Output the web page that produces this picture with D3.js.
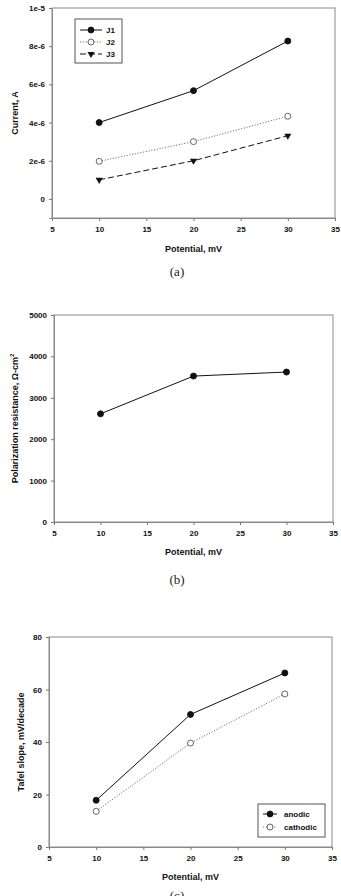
<!DOCTYPE html>
<html>
<head>
<meta charset="utf-8">
<script src="https://cdn.jsdelivr.net/npm/d3@7"></script>
<style>
  body { margin:0; background:#fff; }
  svg { display:block; }
  .tick text { font-family:"Liberation Sans",Arial,sans-serif; font-weight:bold; font-size:8px; fill:#111; }
  .ttl { font-family:"Liberation Sans",Arial,sans-serif; font-weight:bold; font-size:9px; fill:#111; }
  .cap { font-family:"Liberation Serif","Times New Roman",serif; font-size:13px; fill:#222; }
  .leg { font-family:"Liberation Sans",Arial,sans-serif; font-weight:bold; font-size:8px; fill:#111; }
</style>
</head>
<body>
<svg id="fig" width="341" height="896"></svg>
<script>
// shared x values (potential, mV)
const potential = [10, 20, 30]
const xTicks = [5, 10, 15, 20, 25, 30, 35]

// (a) current
const currentJ1 = [4.0e-6, 5.67e-6, 8.27e-6]
const currentJ2 = [1.97e-6, 3.0e-6, 4.33e-6]
const currentJ3 = [1.0e-6, 2.0e-6, 3.31e-6]
const currentTicks = [0, 2e-6, 4e-6, 6e-6, 8e-6, 1e-5]
const currentTickLabels = ['0', '2e-6', '4e-6', '6e-6', '8e-6', '1e-5']

// (b) polarization resistance
const resistance = [2613, 3525, 3622]
const resistanceTicks = [0, 1000, 2000, 3000, 4000, 5000]

// (c) tafel slopes
const anodic = [17.8, 50.5, 66.3]
const cathodic = [13.6, 39.6, 58.3]
const tafelTicks = [0, 20, 40, 60, 80]

const svg = d3.select('#fig')

const styles = {
	solid: { stroke:'#111', dash:null, sym:'circle', fill:'#111', mstroke:'#111' },
	dotted: { stroke:'#777', dash:'1.2,1.6', sym:'circle', fill:'#fff', mstroke:'#555' },
	dashed: { stroke:'#111', dash:'6,3', sym:'triangle', fill:'#111', mstroke:'#111' }
}

function marker(g, x, y, st){
	if(st.sym == 'circle'){
		g.append('circle').attr('cx', x).attr('cy', y).attr('r', 3)
			.attr('fill', st.fill).attr('stroke', st.mstroke).attr('stroke-width', 0.9)
	}else{
		let tri = d3.symbol().type(d3.symbolTriangle).size(22)
		g.append('path').attr('d', tri())
			.attr('transform', 'translate(' + x + ',' + y + ') rotate(180)')
			.attr('fill', st.fill)
	}
}

function panel(cfg){
	let { left, right, top, bottom, yDomain, yTicks, yLabels, series, yTitle, caption, titleY, capY, yTitleX, legend } = cfg
	let g = svg.append('g')

	let x = d3.scaleLinear().domain([5, 35]).range([left, right])
	let y = d3.scaleLinear().domain(yDomain).range([bottom, top])

	// frame
	g.append('rect').attr('x', left).attr('y', top)
		.attr('width', right - left).attr('height', bottom - top)
		.attr('fill', 'none').attr('stroke', '#8a8a8a').attr('stroke-width', 1)

	let xa = g.append('g').attr('transform', 'translate(0,' + bottom + ')')
		.call(d3.axisBottom(x).tickValues(xTicks).tickSize(3).tickPadding(5).tickFormat(d3.format('d')))
	let ya = g.append('g').attr('transform', 'translate(' + left + ',0)')
		.call(d3.axisLeft(y).tickValues(yTicks).tickSize(3).tickPadding(4)
			.tickFormat((d, i) => yLabels ? yLabels[i] : d))
	;[xa, ya].forEach(a => {
		a.select('.domain').attr('stroke', '#8a8a8a')
		a.selectAll('.tick line').attr('stroke', '#777')
	})

	// lines + markers
	let line = d3.line().x((d, i) => x(potential[i])).y(d => y(d))
	series.forEach(s => {
		let st = styles[s.style]
		g.append('path').attr('d', line(s.values))
			.attr('fill', 'none').attr('stroke', st.stroke).attr('stroke-width', 1)
			.attr('stroke-dasharray', st.dash)
		s.values.forEach((v, i) => marker(g, x(potential[i]), y(v), st))
	})

	// titles
	g.append('text').attr('class', 'ttl').attr('x', (left + right) / 2).attr('y', titleY)
		.attr('text-anchor', 'middle').text('Potential, mV')
	let yt = g.append('text').attr('class', 'ttl')
		.attr('transform', 'translate(' + yTitleX + ',' + (top + bottom) / 2 + ') rotate(-90)')
		.attr('text-anchor', 'middle')
	if(Array.isArray(yTitle)){
		yt.append('tspan').text(yTitle[0])
		yt.append('tspan').attr('dy', -4).attr('font-size', '6px').text(yTitle[1])
	}else yt.text(yTitle)
	g.append('text').attr('class', 'cap').attr('x', 177).attr('y', capY)
		.attr('text-anchor', 'middle').text(caption)

	// legend
	if(legend){
		let { bx, by, bw, bh, rowY, lx0, lx1, tx } = legend
		g.append('rect').attr('x', bx).attr('y', by).attr('width', bw).attr('height', bh)
			.attr('fill', '#fff').attr('stroke', '#555').attr('stroke-width', 1)
		series.forEach((s, i) => {
			let st = styles[s.style]
			let yy = rowY[i]
			g.append('line').attr('x1', lx0).attr('x2', lx1).attr('y1', yy).attr('y2', yy)
				.attr('stroke', st.stroke).attr('stroke-width', 1).attr('stroke-dasharray', st.dash)
			marker(g, (lx0 + lx1) / 2, yy, st)
			g.append('text').attr('class', 'leg').attr('x', tx).attr('y', yy + 3).text(s.name)
		})
	}
}

panel({
	left:52, right:335, top:8, bottom:218,
	yDomain:[-1e-6, 1e-5], yTicks:currentTicks, yLabels:currentTickLabels,
	series:[
		{ name:'J1', values:currentJ1, style:'solid' },
		{ name:'J2', values:currentJ2, style:'dotted' },
		{ name:'J3', values:currentJ3, style:'dashed' }
	],
	yTitle:'Current, A', yTitleX:18, titleY:252, caption:'(a)', capY:276,
	legend:{ bx:75, by:19, bw:47, bh:44, rowY:[30, 42, 54], lx0:80, lx1:102, tx:106 }
})

panel({
	left:54, right:333, top:315, bottom:522,
	yDomain:[0, 5000], yTicks:resistanceTicks,
	series:[ { name:'Rp', values:resistance, style:'solid' } ],
	yTitle:['Polarization resistance, \u03A9-cm', '2'], yTitleX:18, titleY:555, caption:'(b)', capY:584
})

panel({
	left:49, right:332, top:637, bottom:847,
	yDomain:[0, 80], yTicks:tafelTicks,
	series:[
		{ name:'anodic', values:anodic, style:'solid' },
		{ name:'cathodic', values:cathodic, style:'dotted' }
	],
	yTitle:'Tafel slope, mV/decade', yTitleX:24, titleY:880, caption:'(c)', capY:900,
	legend:{ bx:258, by:804, bw:67, bh:33, rowY:[814, 827], lx0:263, lx1:277, tx:284 }
})
</script>
</body>
</html>
